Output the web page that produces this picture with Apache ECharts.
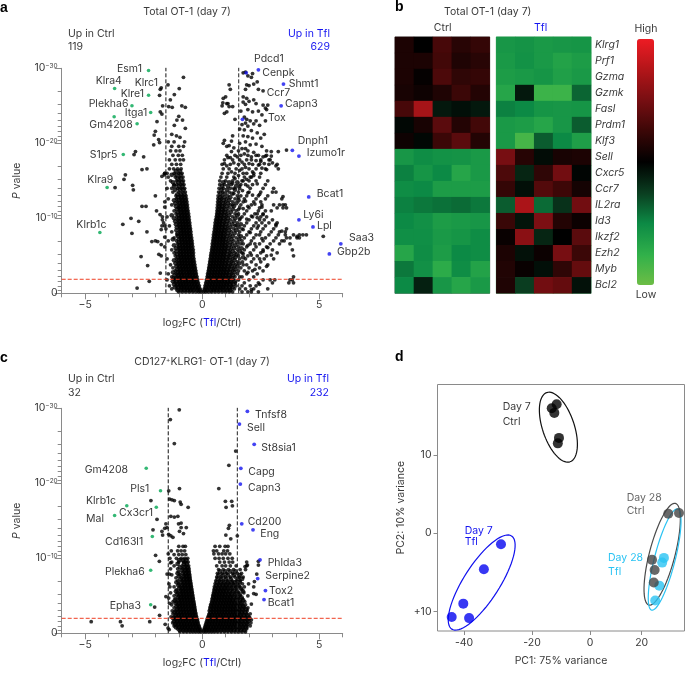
<!DOCTYPE html>
<html><head><meta charset="utf-8">
<script src="https://cdn.jsdelivr.net/npm/echarts@6/dist/echarts.min.js"></script>
<style>html,body{margin:0;padding:0;background:#fff}#c{width:685px;height:673px}</style></head>
<body><div id="c"></div>
<script>
// ---------- Panel a values: rows are [-log10 P, log2FC, log2FC, ...]
const aLeftRows = [
[.2,-.05,-.15,-.27,-.4,-.55,-.7,-.85,-1],[.6,-.09,-.2,-.32,-.44,-.56,-.68,-.8,-.93,-1.08,-1.3],[1,-.12,-.24,-.36,-.48,-.6,-.72,-.84,-.96,-1.1,-1.4],
[1.4,-.16,-.28,-.4,-.52,-.64,-.76,-.88,-1,-1.15],[1.8,-.19,-.31,-.43,-.55,-.67,-.79,-.91,-1.03,-1.2,-1.5],[2.2,-.22,-.34,-.46,-.58,-.7,-.82,-.94,-1.06,-1.3],
[2.6,-.25,-.37,-.49,-.61,-.73,-.85,-.97,-1.1,-1.45],[3,-.27,-.39,-.51,-.63,-.75,-.87,-.99,-1.15],[3.4,-.29,-.41,-.53,-.65,-.77,-.89,-1.01,-1.25],
[3.8,-.31,-.43,-.55,-.67,-.79,-.91,-1.03,-1.35],[4.2,-.33,-.45,-.57,-.69,-.81,-.93,-1.06],[4.6,-.35,-.47,-.59,-.71,-.83,-.95,-1.1,-1.5],
[5,-.37,-.49,-.61,-.73,-.85,-.97,-1.15],[5.4,-.37,-.49,-.62,-.74,-.86,-.98,-1.2],[5.8,-.38,-.5,-.62,-.74,-.86,-.98,-1.3],[6.2,-.4,-.52,-.64,-.76,-.88,-1.02,-1.6],
[6.6,-.42,-.54,-.66,-.78,-.9,-1.05],[7,-.43,-.55,-.67,-.79,-.91,-1.1,-1.45],[7.4,-.45,-.57,-.69,-.81,-.93,-1.2],[7.8,-.47,-.59,-.71,-.83,-.95,-1.08],
[8.2,-.48,-.6,-.72,-.84,-.96,-1.3],[8.6,-.5,-.62,-.74,-.86,-.98,-1.55],[9,-.52,-.64,-.76,-.88,-1,-1.4],[9.4,-.53,-.65,-.77,-.89,-1.02,-1.65],
[9.8,-.55,-.67,-.79,-.91,-1.05,-1.7],[10.2,-.56,-.68,-.8,-.92,-1.08,-1.5],[10.6,-.58,-.7,-.82,-.94,-1.12],[11,-.6,-.72,-.84,-.96,-1.2],
[11.4,-.62,-.74,-.86,-.98,-1.02],[11.8,-.63,-.75,-.87,-1,-1.3],[12.2,-.65,-.77,-.89,-1.05,-1.6],[12.6,-.67,-.8,-.92,-1.1,-1.45],[13,-.69,-.82,-.95,-1.12],
[13.5,-.72,-.85,-1,-1.25],[14,-.75,-.9,-1.05,-1.3,-1.5],[14.5,-.78,-.92,-1.08,-1.2],[15,-.8,-.95,-1.1,-1.35],[15.5,-.82,-.98,-1.15,-1.45],
[16,-.86,-1,-1.2,-1.5,-1.6],[16.6,-.9,-1.05,-1.22,-1.4],[17.2,-.92,-1.1,-1.3],[17.8,-.8,-.95,-1.15,-1.4],[18.4,-.85,-1.02,-1.25],[19,-.95,-1.12,-1.35],[19.6,-.8,-1,-1.3],[20.2,-.75,-1.2,-1.45]
];
const aLeftFill = [
[.4,-.1,-.21,-.38,-.5,-.62,-.76,-.91,-1.05],[.8,-.17,-.28,-.41,-.53,-.66,-.78,-.9,-1.02,-1.17],[1.2,-.2,-.33,-.44,-.57,-.69,-.82,-.93,-1.05,-1.2],[1.6,-.24,-.36,-.47,-.6,-.71,-.83,-.96,-1.09,-1.25],
[2,-.27,-.39,-.5,-.63,-.75,-.86,-.98,-1.12,-1.22],[2.4,-.29,-.41,-.53,-.64,-.77,-.88,-1.01,-1.18],[2.8,-.31,-.44,-.55,-.66,-.8,-.91,-1.04,-1.24],[3.2,-.33,-.45,-.57,-.69,-.81,-.93,-1.07],
[3.6,-.36,-.47,-.6,-.71,-.83,-.96,-1.1],[4,-.38,-.5,-.62,-.74,-.86,-.98,-1.14],[4.4,-.4,-.51,-.64,-.75,-.87,-1,-1.2],[4.8,-.42,-.54,-.66,-.78,-.9,-1.03],[5.2,-.43,-.55,-.67,-.8,-.92,-1.07],
[5.6,-.44,-.56,-.68,-.8,-.93,-1.1],[6,-.46,-.58,-.7,-.82,-.95,-1.12],[6.4,-.47,-.59,-.71,-.84,-.97,-1.2],[6.8,-.48,-.61,-.72,-.85,-.99],[7.2,-.5,-.62,-.75,-.87,-1,-1.25],[7.6,-.52,-.64,-.76,-.89,-1.03],
[8,-.54,-.66,-.78,-.9,-1.05],[8.4,-.54,-.67,-.79,-.91,-1.1],[8.8,-.56,-.69,-.81,-.93,-1.08],[9.2,-.58,-.7,-.82,-.95,-1.12],[9.6,-.6,-.72,-.84,-.97,-1.15],[10,-.62,-.74,-.86,-.99,-1.2],
[10.4,-.63,-.75,-.87,-1.01,-1.3],[10.8,-.65,-.78,-.9,-1.05],[11.2,-.67,-.79,-.92,-1.08],[11.6,-.69,-.81,-.94,-1.12],[12,-.71,-.84,-.97,-1.15],[12.4,-.72,-.86,-1,-1.2],[12.8,-.75,-.88,-1.03],
[13.2,-.76,-.9,-1.06],[13.8,-.8,-.95,-1.15],[14.3,-.84,-1,-1.2],[14.8,-.86,-1.02,-1.25],[15.3,-.9,-1.05],[15.8,-.92,-1.1,-1.3],[16.3,-.95,-1.12]
];
const aRightRows = [
[.2,.05,.15,.27,.4,.55,.7,.85,1,1.15,1.3,1.7,1.95,2.1,2.4],[.6,.09,.2,.32,.44,.56,.68,.8,.93,1.08,1.22,1.38,1.6,1.85,2.2,2.8],[1,.12,.24,.36,.48,.6,.72,.84,.96,1.1,1.24,1.45,1.7,2.05,2.3],
[1.4,.15,.27,.39,.51,.63,.75,.87,1,1.12,1.26,1.42,1.8,2.4,3,3.7,3.9],[1.8,.18,.3,.42,.54,.66,.78,.9,1.02,1.16,1.32,1.55,2,2.6,2.9,3.1,3.75,3.85],[2.2,.21,.33,.45,.57,.69,.81,.93,1.06,1.2,1.4,1.7,2.2,3.9],
[2.6,.23,.35,.47,.59,.71,.83,.95,1.08,1.25,1.5,1.9,2.35],[3,.26,.38,.5,.62,.74,.86,.98,1.12,1.3,1.55,1.8,2.15,2.6],[3.4,.28,.4,.52,.64,.76,.88,1,1.15,1.35,1.65,2,2.45],
[3.8,.3,.42,.54,.66,.78,.9,1.04,1.2,1.42,1.75,1.9,2.3,2.8],[4.2,.32,.44,.56,.68,.8,.92,1.06,1.25,1.5,1.72,2.1,2.5],[4.6,.34,.46,.58,.7,.82,.94,1.1,1.3,1.6,1.85,2.2,2.65,3.05],
[5,.36,.48,.6,.72,.84,.96,1.14,1.35,1.55,1.95,2.35,2.75,3.9],[5.4,.38,.5,.62,.74,.86,.98,1.18,1.4,1.7,2.05,2.5,3.2],[5.8,.4,.52,.64,.76,.88,1,1.2,1.5,1.8,2.2,2.6,3,3.85],
[6.2,.42,.54,.66,.78,.9,1.04,1.25,1.55,1.9,2.3,2.75],[6.6,.43,.55,.67,.79,.91,1.06,1.3,1.65,1.75,2.05,2.45,2.9,3.3,3.75],[7,.45,.57,.69,.81,.93,1.1,1.35,1.7,2.1,2.6,3.05,3.4,3.5],
[7.4,.47,.59,.71,.83,.95,1.15,1.45,1.8,2.2,2.7,3.15,3.6,3.75,4.05,4.15],[7.8,.48,.6,.72,.84,.98,1.2,1.55,1.9,2.3,2.45,2.85,3.25,3.55,3.9,4.15,4.3,4.45],[8.2,.5,.62,.74,.86,1,1.25,1.6,2,2.5,2.95,3.3,3.55],
[8.6,.52,.64,.76,.9,1.05,1.35,1.7,2.1,2.6,3.05,3.6],[9,.54,.66,.78,.92,1.1,1.4,1.8,2.2,2.4,2.7,3.15],[9.4,.55,.67,.79,.95,1.15,1.5,1.9,2.3,2.55,2.85],
[9.8,.57,.69,.82,.98,1.2,1.6,2,2.45,2.65,3],[10.2,.6,.72,.85,1.02,1.3,1.7,2.15,2.5,2.75],[10.6,.62,.74,.88,1.05,1.4,1.55,1.8,2.25,2.35,2.6],
[11,.63,.75,.9,1.1,1.45,1.9,2.4,2.7,2.95],[11.4,.64,.77,.92,1.15,1.6,2,2.45,3.2,3.45,3.6],[11.8,.65,.78,.95,1.2,1.65,2.1,2.55,3.05,3.3,3.45,3.55],
[12.2,.66,.8,1,1.3,1.75,2.2,2.5],[12.6,.67,.82,1.05,1.4,1.8,2.3,2.7,3.4],[13,.68,.85,1.1,1.5,1.9,2.4,2.8],[13.5,.7,.88,1.15,1.55,2,2.5,3,3.15],
[14,.72,.9,1.2,1.35,1.6,2.05,2.6,3.05],[14.5,.75,.95,1.25,1.65,1.85,2.15,2.7],[15,.75,1,1.3,1.7,2,2.3,2.8],[15.5,.8,1.05,1.35,1.8,2.1,2.45],
[16,.85,1.1,1.4,1.75,1.9,2.2,2.5],[16.6,.9,1.15,1.45,1.7,2,2.3,2.7],[17.2,.85,1.2,1.55,1.8,2.15,2.45,2.85,3.2],[17.8,.95,1.3,1.6,1.9,2.1,2.5,2.9],[18.4,1.05,1.4,1.65,1.95,2.3,2.75]
];
const aRightFill = [
[.4,.1,.21,.38,.5,.62,.76,.91,1.06,1.2],[.8,.16,.28,.42,.54,.66,.78,.9,1.02,1.16,1.3],[1.2,.19,.32,.44,.56,.68,.8,.93,1.05,1.18,1.33],[1.6,.22,.35,.47,.6,.72,.84,.96,1.09,1.22,1.4],
[2,.25,.38,.5,.63,.75,.87,.99,1.13,1.28],[2.4,.27,.4,.52,.64,.76,.88,1.01,1.15,1.32],[2.8,.29,.42,.54,.66,.78,.91,1.03,1.18,1.38],[3.2,.31,.44,.56,.69,.81,.93,1.06,1.22,1.42],
[3.6,.34,.46,.58,.7,.82,.95,1.1,1.27,1.5],[4,.36,.48,.6,.73,.85,.98,1.13,1.32,1.58],[4.4,.38,.5,.62,.74,.87,1,1.17,1.38],[4.8,.4,.52,.64,.76,.89,1.03,1.2,1.42,1.75],[5.2,.41,.54,.66,.79,.91,1.06,1.24,1.48],
[5.6,.44,.56,.68,.8,.94,1.09,1.3,1.6],[6,.46,.58,.7,.83,.96,1.12,1.36,1.68],[6.4,.48,.6,.72,.85,.98,1.16,1.42],[6.8,.5,.62,.74,.87,1,1.2,1.5],[7.2,.51,.63,.76,.88,1.02,1.25,1.58],[7.6,.53,.65,.78,.9,1.07,1.3,1.65],
[8,.55,.67,.8,.92,1.1,1.38],[8.4,.57,.69,.82,.96,1.15,1.45],[8.8,.58,.71,.84,.99,1.2,1.55],[9.2,.6,.72,.86,1.02,1.28,1.65],[9.6,.62,.75,.88,1.06,1.35],[10,.64,.77,.92,1.1,1.42],[10.4,.66,.79,.95,1.15,1.5],
[10.8,.68,.82,.98,1.22],[11.2,.7,.84,1,1.3],[11.6,.72,.86,1.05,1.35],[12,.73,.9,1.1,1.45],[12.4,.74,.92,1.15,1.55],[12.8,.76,.95,1.2],[13.3,.78,.98,1.28],[13.8,.82,1.05,1.4],[14.3,.85,1.1,1.45],[14.8,.9,1.15,1.5]
];
const aLeftSparse = [[-1.46,27.8],[-1.75,27.4],[-1.79,27.2],[-1.82,26.4],[-.8,28.8],[-.98,27.3],[-1.19,26.5],[-1.36,25.8],[-1.43,24.9],[-1.69,25],[-1.79,24.2],[-1.72,23.9],[-1.28,24.8],[-.87,25],[-.72,24.8],[-1,23.6],[-1.08,23.1],[-1.19,22.4],[-.84,23.1],[-.72,22],[-1.93,22.9],[-2,21.6],[-2.05,21.1],[-1.86,20.5],[-2.07,19.8],[-1.82,20.1],[-2.85,18.9],[-2.91,18.5],[-2.5,18.2],[-2.36,16.6],[-2.57,16.5],[-3.28,15.8],[-3.34,15.2],[-2.97,14.4],[-2.94,13.8],[-3.72,14.1],[-2.4,11.6],[-2.57,11.6],[-3.04,10],[-3.39,9.2],[-2.71,9.6],[-3,8],[-2.36,8.2],[-2.61,4.9],[-2.33,3.7],[-2.26,1.6],[-2.78,.7],[-1.79,2.7],[-1.6,16],[-1.62,15.8],[-1.72,15.6],[-2,13],[-1.95,11],[-1.8,10.5],[-1.7,10.2],[-1.6,9],[-2,7],[-2.15,6.9],[-1.9,6.9],[-1.75,6.5],[-1.75,5],[-1.85,5.2],[-1.6,7.5],[-1.75,8.5],[-1.72,9],[-1.6,11.5],[-1.3,21.2],[-1.1,21],[-.95,20.8]];
const aRightSparse = [[1.75,29.4],[1.85,29.5],[1.95,29],[2.1,28.8],[2.15,29.3],[1.15,27.8],[1.2,27.2],[1,26.2],[.9,26],[.88,25.4],[.85,25],[1.05,25.3],[1.1,25.3],[1.15,24.9],[1.3,24.9],[1.05,24.2],[.95,24],[1.4,23.2],[1.9,27.8],[2,27.7],[2.2,27.9],[2.35,28.2],[2.4,27.2],[2.6,27],[1.85,27.2],[1.75,26.2],[1.9,26],[2,25.6],[2.2,25.8],[2.3,25.3],[1.75,25.5],[1.85,25.2],[2.6,25.1],[2.7,24.7],[2.8,25.1],[2.75,24.5],[1.65,24.3],[1.95,24.5],[2.15,24.2],[2.4,24.3],[2.55,23.8],[1.8,23.5],[1.9,23.2],[2.05,23],[2.3,23],[2.7,23],[1.7,22.5],[1.85,22.7],[1.95,22.3],[2.2,22.6],[2.45,22.4],[1.6,21.9],[1.8,21.8],[2.1,21.7],[2.35,21.4],[2.65,21.2],[1.75,21],[1.95,20.9],[2.15,20.7],[2.5,20.7],[1.3,21],[1.25,20.3],[.95,20.4],[.9,20],[1.05,19.6],[1.15,19.7],[1.35,19.4],[1.6,20],[1.85,20.2],[2.05,19.8],[2.3,19.9],[2.55,19.6],[1.7,19.3],[1.95,19],[2.2,18.8],[2.4,18.4],[2.75,19],[2.95,18.9],[3.25,18.9],[3.6,19.1],[2.95,18.3],[2.6,18.2],[2.7,18.3],[2.85,17.8],[3,17.4],[3.15,17],[3.25,16.6],[2.65,17.3],[2.5,17.6],[2.4,17.1],[2.55,16.7],[2.75,16.5],[5.17,7.6],[3.45,12.9],[4.05,7.6],[3.2,9.4],[3.15,9.2],[3.4,8.3],
[1.45,9.1],[1.62,10],[1.75,11.3],[1.85,12.3],[1.55,12.7],[1.35,13.3],[1.72,13.7],[1.95,14.3],[1.4,15.3],[1.55,15.7],[1.9,15.2],[2.2,15.7],[1.25,16.2],[1.6,16.4],[1.85,16.8],[2.15,16.2],[1.35,17.4],[1.7,17.5],[2,17.3],[2.3,17.7],[1.2,18.1],[1.5,18.2],[1.8,18.6],[2.1,18.2],[1.25,18.9],[1.55,19],[1.85,19.3],[1.05,17],[1.1,18.1],[.95,17.3],[1.3,14.7],[1.6,14.3],[1.75,15],[2.05,15.5],[2.35,14.6],[2.45,13.2],[2.15,13.1],[1.95,13.4],[1.65,13],[2.25,11.9],[1.95,11.6],[1.55,11.2],[1.3,11.8],[2.1,10.3],[1.9,9.9],[2.35,10.1],[2.6,10.5],[2.55,11.5],[1.75,8.5],[2.05,8.1],[2.35,8.7],[2.55,7.3],[2.25,6.6],[1.95,6.4],[2.8,6.1],[2.6,5.6],[2.95,5.1],[2.45,4.6],[2.1,5.1],[1.75,5.3],[2.75,3.6],[2.25,3.2],[1.95,2.8],[1.6,2.2],[2.45,1.2],[2.1,.5]];
const aGreen = [[-2.29,29.7],[-3.74,27.3],[-2.29,26.4],[-3,25],[-2.2,24.1],[-2.78,22.6],[-3.76,23.55],[-3.37,18.5],[-4.06,14.1],[-4.37,8.1]];
const aBlue = [[1.88,29.4],[2.4,29.8],[3.47,27.9],[3.37,25],[1.72,23.2],[3.85,19.07],[4.13,18.3],[4.55,12.85],[4.13,9.8],[4.73,8.85],[5.92,6.6],[5.43,5.25]];
const aThreshold = {fcLow:-1.55, fcHigh:1.56, p:1.87};
// ---------- Panel b values
const geneNames = ['Klrg1','Prf1','Gzma','Gzmk','Fasl','Prdm1','Klf3','Sell','Cxcr5','Ccr7','IL2ra','Id3','Ikzf2','Ezh2','Myb','Bcl2'];
const ctrlValues = [[.12,0,.3,.17,.22],[.12,.12,.28,.13,.17],[.12,.02,.32,.2,.22],[.1,.06,.13,.25,.15],[.3,.7,-.1,-.06,-.1],[-.03,.1,.38,.15,.28],[.06,-.03,.25,.38,.15],
[-.58,-.52,-.55,-.56,-.6],[-.47,-.57,-.5,-.68,-.6],[-.52,-.5,-.62,-.62,-.62],[-.47,-.44,-.42,-.4,-.44],[-.5,-.54,-.62,-.6,-.58],[-.53,-.53,-.6,-.57,-.52],[-.68,-.52,-.62,-.5,-.52],[-.44,-.54,-.72,-.52,-.66],[-.5,-.13,-.58,-.68,-.6]];
const tflValues = [[-.58,-.56,-.6,-.58,-.57],[-.6,-.55,-.6,-.66,-.62],[-.62,-.6,-.57,-.64,-.6],[-.68,-.1,-.8,-.8,-.38],[-.47,-.5,-.57,-.58,-.57],[-.6,-.62,-.68,-.58,-.35],[-.6,-.84,-.35,-.5,-.63],
[.5,.16,-.05,.1,.12],[.32,-.15,.2,.48,-.02],[.22,-.06,.35,.26,.09],[-.35,.72,-.4,-.2,.48],[.24,-.08,.52,.15,.05],[.04,.58,-.15,0,.38],[.12,-.07,.05,.5,.25],[.14,.04,-.06,.2,.42],[.13,-.25,.48,.42,-.07]];
// ---------- Panel c values
const cLeftRows = [
[.2,-.06,-.16,-.28,-.4,-.52,-.66,-.8,-.95],[.6,-.1,-.2,-.32,-.44,-.56,-.68,-.8,-.92,-1.05],[1,-.14,-.24,-.35,-.47,-.59,-.71,-.83,-.95,-1.08,-1.2],[1.4,-.18,-.29,-.4,-.52,-.64,-.76,-.88,-1,-1.12,-1.26],
[1.8,-.2,-.32,-.43,-.55,-.67,-.79,-.91,-1.03,-1.16],[2.2,-.24,-.35,-.47,-.59,-.71,-.83,-.95,-1.07,-1.2,-1.33],[2.6,-.27,-.38,-.5,-.62,-.74,-.86,-.98,-1.1,-1.25],[3,-.3,-.41,-.52,-.64,-.76,-.88,-1,-1.14,-1.28],
[3.4,-.32,-.44,-.55,-.67,-.79,-.91,-1.03,-1.2],[3.8,-.34,-.46,-.58,-.7,-.82,-.94,-1.06,-1.3],[4.2,-.36,-.47,-.59,-.71,-.83,-.95,-1.1,-1.25],[4.6,-.38,-.5,-.62,-.74,-.86,-.98,-1.15],[5,-.4,-.52,-.64,-.76,-.88,-1,-1.2],
[5.4,-.42,-.54,-.66,-.78,-.9,-1.05,-1.35],[5.8,-.44,-.55,-.67,-.79,-.91,-1.1],[6.2,-.46,-.57,-.69,-.81,-.94,-1.2,-1.38],[6.6,-.48,-.59,-.71,-.83,-1,-1.42],[7,-.5,-.6,-.72,-.85,-1.05],[7.4,-.52,-.62,-.74,-.88,-1.12],
[7.8,-.53,-.64,-.76,-.95,-1.3],[8.2,-.55,-.66,-.78,-1.02],[8.6,-.56,-.68,-.82,-1.05,-1.35],[9,-.58,-.7,-.86,-1.2],[9.5,-.6,-.72,-.8,-1,-1.3],[10,-.62,-.75,-.9,-1.1,-1.38],[10.5,-.7,-.85,-1,-1.2],[11,-.75,-.9,-1.05,-1.32],[11.6,-.72,-.82,-1]
];
const cLeftFill = [
[.4,-.08,-.18,-.3,-.42,-.54,-.67,-.81,-.96],[.8,-.14,-.25,-.38,-.5,-.62,-.74,-.86,-.98,-1.12],[1.2,-.19,-.3,-.41,-.53,-.65,-.77,-.89,-1.02,-1.15],[1.6,-.22,-.34,-.46,-.58,-.7,-.82,-.94,-1.06,-1.2],
[2,-.26,-.38,-.49,-.61,-.73,-.85,-.97,-1.1,-1.24],[2.4,-.29,-.41,-.52,-.64,-.76,-.88,-1,-1.13],[2.8,-.31,-.43,-.55,-.67,-.79,-.91,-1.04,-1.18],[3.2,-.33,-.45,-.57,-.7,-.82,-.94,-1.07],[3.6,-.35,-.47,-.6,-.72,-.84,-.96,-1.1],
[4,-.37,-.49,-.61,-.73,-.85,-.97,-1.12],[4.4,-.4,-.52,-.64,-.76,-.88,-1,-1.17],[4.8,-.42,-.54,-.66,-.78,-.9,-1.03],[5.2,-.44,-.56,-.68,-.8,-.92,-1.08],[5.6,-.46,-.58,-.7,-.82,-.94,-1.12],[6,-.48,-.6,-.72,-.84,-.98],
[6.4,-.5,-.62,-.74,-.86,-1.02],[6.8,-.52,-.64,-.76,-.9,-1.1],[7.2,-.54,-.66,-.78,-.93],[7.6,-.56,-.68,-.8,-1],[8,-.58,-.7,-.84,-1.05],[8.4,-.6,-.72,-.88],[8.8,-.62,-.76,-.95],[9.25,-.66,-.78,-1.05],[9.75,-.68,-.82,-.98]
];
const cRightRows = [
[.2,.06,.16,.28,.4,.52,.66,.8,.95,1.1,1.25,1.4,1.55,1.7,1.85],[.6,.1,.2,.32,.44,.56,.68,.8,.92,1.05,1.18,1.3,1.45,1.6,1.75,1.9],[1,.14,.26,.38,.5,.62,.74,.86,.98,1.1,1.22,1.34,1.46,1.6,1.75,1.9,2.05],
[1.4,.18,.3,.42,.54,.66,.78,.9,1.02,1.14,1.26,1.38,1.5,1.63,1.78,1.92,2.08],[1.8,.22,.34,.46,.58,.7,.82,.94,1.06,1.18,1.3,1.42,1.54,1.66,1.8,1.95,2.1],[2.2,.26,.38,.5,.62,.74,.86,.98,1.1,1.22,1.34,1.46,1.58,1.7,1.85,2],
[2.6,.3,.42,.54,.66,.78,.9,1.02,1.14,1.26,1.38,1.5,1.62,1.75,1.9,2.05],[3,.3,.42,.54,.66,.78,.9,1.02,1.14,1.26,1.38,1.5,1.62,1.76,1.92],[3.4,.33,.45,.57,.69,.81,.93,1.05,1.17,1.29,1.41,1.53,1.66,1.8,1.95],
[3.8,.36,.48,.6,.72,.84,.96,1.08,1.2,1.32,1.44,1.58,1.72,1.85],[4.2,.4,.52,.64,.76,.88,1,1.12,1.24,1.36,1.5,1.65,1.82],[4.6,.42,.54,.66,.78,.9,1.02,1.14,1.26,1.4,1.55,1.72],[5,.45,.57,.69,.81,.93,1.05,1.17,1.3,1.45,1.62,1.95],
[5.4,.48,.6,.72,.84,.96,1.08,1.22,1.38,1.55,1.78],[5.8,.5,.62,.74,.86,.98,1.12,1.28,1.46,1.7],[6.2,.52,.66,.8,.95,1.08,1.24,1.42,1.6,1.8],[6.6,.55,.7,.85,1,1.15,1.32,1.5,1.72,1.98],[7,.58,.74,.9,1.08,1.28,1.45,1.62],
[7.5,.62,.8,.98,1.2,1.4,1.58,1.75],[8,.65,.85,1.05,1.3,1.5,1.68],[8.5,.7,.9,1.12,1.34,1.62,1.85],[9,.62,.85,1,1.2,1.45,1.9],[9.5,.75,.95,1.15,1.3],[10,.55,.72,.9,1.1,1.28],[10.6,.5,.7,.85,1,1.18],[11,.48,.62,.92,1.08],[11.6,.55,.75,.98,1.1]
];
const cRightFill = [
[.4,.08,.18,.3,.42,.54,.66,.8,.94,1.08,1.22,1.36,1.5,1.65,1.8],[.8,.13,.24,.36,.48,.6,.72,.84,.96,1.08,1.2,1.33,1.46,1.6,1.74,1.88],[1.2,.17,.3,.42,.54,.66,.78,.9,1.02,1.14,1.26,1.38,1.5,1.64,1.78,1.93],
[1.6,.21,.33,.45,.57,.69,.81,.93,1.05,1.17,1.29,1.41,1.53,1.67,1.82,1.97],[2,.25,.37,.49,.61,.73,.85,.97,1.09,1.21,1.33,1.45,1.58,1.72,1.86,2.02],[2.4,.3,.42,.54,.66,.78,.9,1.02,1.14,1.26,1.38,1.5,1.63,1.78,1.93],
[2.8,.36,.48,.6,.72,.84,.96,1.08,1.2,1.32,1.44,1.56,1.69,1.84],[3.2,.36,.48,.6,.72,.84,.96,1.08,1.2,1.32,1.44,1.57,1.72,1.88],[3.6,.38,.5,.62,.74,.86,.98,1.1,1.22,1.34,1.47,1.61,1.76],[4,.42,.54,.66,.78,.9,1.02,1.14,1.26,1.38,1.52,1.68],
[4.4,.46,.58,.7,.82,.94,1.06,1.18,1.3,1.44,1.6,1.75],[4.8,.48,.6,.72,.84,.96,1.08,1.2,1.34,1.5,1.68],[5.2,.5,.62,.74,.86,.98,1.12,1.25,1.42,1.6],[5.6,.54,.66,.78,.9,1.02,1.16,1.32,1.5,1.74],[6,.56,.69,.82,.96,1.1,1.26,1.44,1.65],
[6.4,.6,.74,.88,1.02,1.18,1.36,1.55],[6.8,.63,.78,.94,1.1,1.25,1.4,1.6],[7.25,.66,.82,1.02,1.22,1.52,1.7],[7.75,.7,.9,1.1,1.35,1.6],[8.25,.76,.98,1.2,1.42]
];
const cSparse = [[-.98,29.8],[-1.36,28.5],[-1.19,25.3],[1.43,24.3],[1.14,22.4],[-.97,19.3],[.71,19.3],[-1.43,19],[-2.19,17.7],[-1.39,17.9],[-1.29,17.8],[-1.19,17.7],[-.94,17.5],[-.9,17.2],[.99,17.6],[1.26,17.6],[1.02,16.8],[1.29,17],[-.6,16.8],[-1.93,15.2],[-1.34,15.6],[-1.19,15.5],[-1.04,15.6],[-1.01,14.6],[-.9,14.7],[-.68,14.1],[-1.55,14.6],[-1.5,14.1],[-.9,14.1],[-2.1,13.8],[-1.72,13.6],[-1.6,14],[-.97,13.6],[-.8,13.3],[-1.43,13.2],[-1.34,13],[-1.25,12.8],[-1.69,13.1],[1.16,14.4],[1.12,14],[1.01,13.1],[1.22,12.6],[1.5,13],[-1.99,10.4],[-1.83,9.6],[-4.74,1.55],[-3.49,1.55],[-3.42,1],[-2.24,1.55],[-1.82,2.4],[-2.03,3.5],[-1.58,1.2],[-1.41,.5],[-1.46,.7],[-1.55,4.9],[-1.43,4.7],[-1.39,4],[-1.5,7.9],[-1.4,7.9],[-1.45,10.6],[-1.35,9.4],[2.23,6.9],[2.33,7.9],[2.4,9.6],[2.4,9.1],[1.9,9.5],[1.83,8.9],[1.93,9.1],[2.2,6.2],[2.2,5.3],[2.3,5.2],[2.1,3.9]];
const cGreen = [[-2.39,22],[-1.78,19],[-3.22,17],[-1.96,16.8],[-3.74,15.7],[-2.13,12.9],[-2.2,8.4],[-2.2,3.8]];
const cBlue = [[1.93,29.6],[1.59,27.9],[2.22,25.2],[1.65,22],[1.63,19.9],[1.69,14.6],[2.17,13.8],[2.47,9.8],[2.37,7.3],[2.7,5.7],[2.64,4.5]];
const cThreshold = {fcLow:-1.45, fcHigh:1.5, p:2};
// ---------- Panel d values (x in the figure's own stretched PC1 units)
const day7Ctrl = [[-11.5,16.5],[-13.2,16],[-12.3,15.4],[-10.7,12.2],[-11.1,11.5]];
const day7Tfl = [[-30.7,-1.4],[-36.6,-4.6],[-43.7,-9],[-47.7,-10.7],[-41.7,-10.85]];
const day28Ctrl = [[27,2.5],[30.7,2.6],[21.4,-3.4],[22.3,-4.7],[22,-6.3]];
const day28Tfl = [[25.5,-3.15],[24.9,-3.75],[23.9,-6.7],[22.5,-8.6]];
// ellipse: centre x,y then two conjugate half-axes
const ellipse7Ctrl = [-10.9,13.57,4,-4.43,5.2,.64];
const ellipse7Tfl = [-37.36,-6.3,10.3,5.96,5.2,-1.23];
const ellipse28Ctrl = [24.9,-2.68,4.6,6.5,4.25,-.43];
const ellipse28Tfl = [25.75,-3.36,4.48,6.47,3.45,-.34];
const pc1TickValues = [-43.45,-20,0,17.83];
const pc1TickLabels = ['-40','-20','0','20'];
const pc2TickValues = [-10,0,10];
const pc2TickLabels = {'-10':'+10','0':'0','10':'10'};

// ---------- helpers
const FONT = 'Inter, "Noto Sans", sans-serif';
const DARK = '#3a3a3a', AXIS = '#8a8a8a', GREEN = '#00a651', BLUE = '#1414f0', CYAN = '#2ac3f3';
const rowsToPoints = rows => rows.flatMap(r => r.slice(1).map(x => [x, r[0]]));
const decades = [0,10,20];
const minorOffsets = [6.99,5.23,3.98,3.01,2.22,1.55,.97,.46];
const yMinor = decades.flatMap(d => minorOffsets.map(m => d + m));
const xMinor = [-6,-4,-3,-2,-1,1,2,3,4,6];

const grids = [
 {left:61.7, top:68.3, width:281, height:225},
 {left:61.7, top:408.3, width:281, height:225},
 {left:395, top:37, width:94.7, height:256.3, show:true, borderColor:'#6a6a6a', borderWidth:1, backgroundColor:'transparent'},
 {left:496.3, top:37, width:94.7, height:256.3, show:true, borderColor:'#63b47e', borderWidth:1, backgroundColor:'transparent'},
 {left:437.5, top:384.5, width:247, height:246.5, show:true, borderColor:AXIS, borderWidth:1, backgroundColor:'transparent'}
];
const xAxes = [], yAxes = [], series = [];
function volcano(g, black, core, green, blue, th){
  const gi = g;
  const xMain = xAxes.length, yMain = yAxes.length;
  xAxes.push({gridIndex:gi,type:'value',min:-6,max:6,splitLine:{show:false},position:'bottom',
    axisLine:{onZero:false,lineStyle:{color:AXIS,width:1}},axisTick:{customValues:[-5,0,5],length:6,lineStyle:{color:AXIS}},
    axisLabel:{customValues:[-5,0,5],color:DARK,fontFamily:FONT,fontSize:10.5,margin:6,formatter:v=>String(v).replace('-','−')},
    name:'{t|log}{s|2}{t|FC (}{b|Tfl}{t|/Ctrl)}',nameLocation:'center',nameGap:24,
    nameTextStyle:{rich:{t:{fontFamily:FONT,fontSize:10.5,color:DARK},s:{fontFamily:FONT,fontSize:7,color:DARK,verticalAlign:'bottom',padding:[4,0,0,0]},b:{fontFamily:FONT,fontSize:10.5,color:BLUE}}}});
  xAxes.push({gridIndex:gi,type:'value',min:-6,max:6,position:'bottom',splitLine:{show:false},axisLine:{show:false,onZero:false},axisLabel:{show:false},
    axisTick:{customValues:xMinor,length:4,lineStyle:{color:AXIS}}});
  yAxes.push({gridIndex:gi,type:'value',min:0,max:30,splitLine:{show:false},position:'left',
    axisLine:{onZero:false,lineStyle:{color:AXIS,width:1}},axisTick:{customValues:[0,10,20,30],length:7,lineStyle:{color:AXIS}},
    axisLabel:{customValues:[0,10,20,30],margin:4,formatter:v=>v===0?'{t|0}':'{t|10}{s|−'+v+'}',
      rich:{t:{fontFamily:FONT,fontSize:10.5,color:DARK},s:{fontFamily:FONT,fontSize:6.5,color:DARK,verticalAlign:'top',padding:[0,0,5,0]}}},
    name:'{i|P} value',nameLocation:'center',nameRotate:90,nameGap:39,
    nameTextStyle:{rich:{i:{fontFamily:FONT,fontSize:10.5,fontStyle:'italic',color:DARK}},fontFamily:FONT,fontSize:10.5,color:DARK}});
  yAxes.push({gridIndex:gi,type:'value',min:0,max:30,position:'left',splitLine:{show:false},axisLine:{show:false,onZero:false},axisLabel:{show:false},
    axisTick:{customValues:yMinor,length:4,lineStyle:{color:AXIS}}});
  const pts = (d,size,color,z) => ({type:'scatter',z,xAxisIndex:xMain,yAxisIndex:yMain,data:d,symbolSize:size,itemStyle:{color},silent:true,animation:false});
  series.push(pts(core,4.8,'#000',2));
  series.push(pts(black,3.8,'#000',2));
  series.push(pts(green,3.6,GREEN,3));
  series.push(pts(blue,3.8,BLUE,4));
  const ln = (d,color,z) => ({type:'line',z,xAxisIndex:xMain,yAxisIndex:yMain,data:d,symbol:'none',silent:true,animation:false,lineStyle:{type:[4,2],width:1,color}});
  series.push(ln([[th.fcLow,0],[th.fcLow,30.3]],'#111',5));
  series.push(ln([[th.fcHigh,0],[th.fcHigh,30.3]],'#222',5));
  series.push(ln([[-6,th.p],[6,th.p]],'#ee3f24',6));
}
volcano(0, [...rowsToPoints(aLeftRows),...rowsToPoints(aRightRows),...aLeftSparse,...aRightSparse], [...rowsToPoints(aLeftFill),...rowsToPoints(aRightFill)], aGreen, aBlue, aThreshold);
volcano(1, [...rowsToPoints(cLeftRows),...rowsToPoints(cRightRows),...cSparse], [...rowsToPoints(cLeftFill),...rowsToPoints(cRightFill)], cGreen, cBlue, cThreshold);

// heatmaps
const hmSeries = (vals,g,showNames) => {
  const xi = xAxes.length, yi = yAxes.length;
  xAxes.push({gridIndex:g,type:'category',data:['1','2','3','4','5'],show:false});
  yAxes.push({gridIndex:g,type:'category',data:geneNames,inverse:true,position:'right',axisLine:{show:false},axisTick:{show:false},
    axisLabel:{show:showNames,fontFamily:FONT,fontStyle:'italic',fontSize:10.5,color:DARK,margin:4,interval:0}});
  series.push({type:'heatmap',xAxisIndex:xi,yAxisIndex:yi,silent:true,animation:false,
    data:vals.flatMap((row,r)=>row.map((v,c)=>[c,r,v]))});
  return series.length-1;
};
const h1 = hmSeries(ctrlValues,2,false), h2 = hmSeries(tflValues,3,true);

// PCA
const dX = xAxes.length, dY = yAxes.length;
xAxes.push({gridIndex:4,type:'value',min:-52.6,max:32.6,position:'bottom',splitLine:{show:false},axisLine:{show:false,onZero:false},
  axisTick:{customValues:pc1TickValues,length:4,lineStyle:{color:AXIS}},
  axisLabel:{customValues:pc1TickValues,margin:6,color:DARK,fontFamily:FONT,fontSize:10.5,formatter:v=>pc1TickLabels[pc1TickValues.indexOf(v)]},
  name:'PC1: 75% variance',nameLocation:'center',nameGap:24,nameTextStyle:{fontFamily:FONT,fontSize:10.5,color:DARK}});
yAxes.push({gridIndex:4,type:'value',min:-12.5,max:19.03,position:'left',splitLine:{show:false},axisLine:{show:false,onZero:false},
  axisTick:{customValues:pc2TickValues,length:4,lineStyle:{color:AXIS}},
  axisLabel:{customValues:pc2TickValues,margin:6,color:DARK,fontFamily:FONT,fontSize:10.5,formatter:v=>pc2TickLabels[String(v)]},
  name:'PC2: 10% variance',nameLocation:'center',nameRotate:90,nameGap:31,nameTextStyle:{fontFamily:FONT,fontSize:10.5,color:DARK}});
function ell(p,color){
  series.push({type:'custom',xAxisIndex:dX,yAxisIndex:dY,silent:true,animation:false,clip:false,data:[p],
    encode:{x:0,y:1},
    renderItem:(params,api)=>{
      const pts=[];
      for(let i=0;i<=72;i++){const t=i/72*Math.PI*2;
        pts.push(api.coord([p[0]+p[2]*Math.cos(t)+p[4]*Math.sin(t),p[1]+p[3]*Math.cos(t)+p[5]*Math.sin(t)]));}
      return {type:'polyline',shape:{points:pts},style:{fill:'none',stroke:color,lineWidth:1.2}};
    }});
}
ell(ellipse7Ctrl,'#111'); ell(ellipse7Tfl,'#1111ee'); ell(ellipse28Ctrl,'#4a4a4a'); ell(ellipse28Tfl,'#2ac3f3');
[[day28Tfl,CYAN],[day28Ctrl,'#444444'],[day7Ctrl,'#000'],[day7Tfl,'#0505f0']].forEach(([d,c])=>series.push(
  {type:'scatter',xAxisIndex:dX,yAxisIndex:dY,data:d,symbolSize:10,itemStyle:{color:c},silent:true,animation:false,clip:false}));

// free text
const gfx = [];
const T = (text,x,y,o={}) => gfx.push({type:'text',silent:true,z:50,x,y,style:Object.assign({text,fontFamily:FONT,fontSize:10.5,fill:DARK,align:'left',verticalAlign:'middle'},o)});
const Z = (items,oy) => items.forEach(([s,zx,zy])=>T(s,zx/3,oy+zy/3));
const bold = {fontWeight:'bold',fontSize:14,fill:'#000',fontFamily:'"Liberation Sans",Inter,sans-serif'};
T('a',0,8,bold); T('b',395,7,bold); T('c',0,358,bold); T('d',395,357,bold);
T('Total OT-1 (day 7)',187,12,{align:'center'});
T('Up in Ctrl',68,34); T('119',68,47); T('Up in Tfl',330,34,{align:'right',fill:BLUE}); T('629',330,47,{align:'right',fill:BLUE});
Z([['Pdcd1',762,176],['Cenpk',787,219],['Shmt1',866,251],['Ccr7',800,280],['Capn3',855,311],['Tox',804,355],['Dnph1',893,423],['Izumo1r',920,460],['Bcat1',950,582],['Ly6i',910,646],['Lpl',951,679],
   ['Esm1',351,207],['Klra4',287,244],['Klrc1',404,248],['Klre1',362,281],['Plekha6',266,312],['Itga1',374,339],['Gm4208',268,374],['S1pr5',269,464],['Klra9',262,540],['Klrb1c',229,676]],0);
T('Saa3',349,238); T('Gbp2b',337,252);
T('{t|CD127}{s|+}{t|KLRG1}{s|−}{t| OT-1 (day 7)}',202,362,{align:'center',rich:{t:{fontFamily:FONT,fontSize:10.5,fill:DARK},s:{fontFamily:FONT,fontSize:6.5,fill:DARK,verticalAlign:'top',padding:[0,0,4,0]}}});
T('Up in Ctrl',68,379); T('32',68,393); T('Up in Tfl',329,379,{align:'right',fill:BLUE}); T('232',329,393,{align:'right',fill:BLUE});
Z([['Tnfsf8',765,210],['Sell',741,249],['St8sia1',784,309],['Capg',745,382],['Capn3',744,429],['Cd200',743,531],['Eng',781,567],['Phlda3',803,655],['Serpine2',796,694],['Tox2',807,738],['Bcat1',803,775],
   ['Gm4208',254,375],['Pls1',391,431],['Klrb1c',258,468],['Cx3cr1',357,505],['Mal',258,521],['Cd163l1',315,592],['Plekha6',315,681],['Epha3',329,782]],345);
T('Total OT-1 (day 7)',487.7,12,{align:'center'}); T('Ctrl',442.7,28,{align:'center'}); T('Tfl',540.7,28,{align:'center',fill:BLUE});
T('High',646,29,{align:'center'}); T('Low',646,295,{align:'center'});
T('Day 7',502.7,407); T('Ctrl',502.7,422); T('Day 7',464.7,531,{fill:BLUE}); T('Tfl',464.7,542,{fill:BLUE});
T('Day 28',626.7,498,{fill:'#666'}); T('Ctrl',626.7,511,{fill:'#666'}); T('Day 28',608,558,{fill:CYAN}); T('Tfl',608,572,{fill:CYAN});

const chart = echarts.init(document.getElementById('c'),null,{renderer:'canvas'});
chart.setOption({animation:false,backgroundColor:'#fff',grid:grids,xAxis:xAxes,yAxis:yAxes,series,graphic:gfx,
  visualMap:[{type:'continuous',min:-1,max:1,seriesIndex:[h1,h2],calculable:false,realtime:false,left:622,top:24,itemWidth:17,itemHeight:246,
    showLabel:false,orient:'vertical',
    inRange:{color:['#6cbd45','#30b04a','#0c8a45','#0a3d20','#000000','#3b0707','#770e12','#b21519','#ed1c24']}}]
});
</script></body></html>
